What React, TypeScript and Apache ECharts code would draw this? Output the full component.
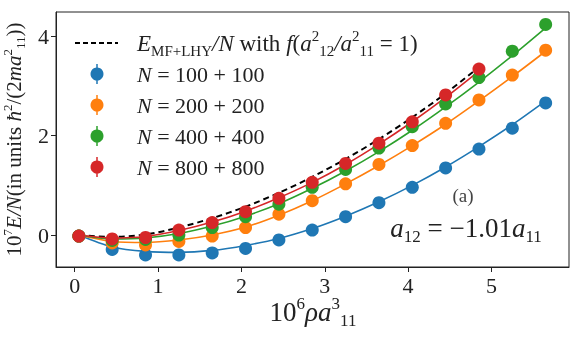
import React, { useEffect, useRef } from "react";
import * as echarts from "echarts";

const xValues = [0.05, 0.45, 0.85, 1.25, 1.65, 2.05, 2.45, 2.85, 3.25, 3.65, 4.05, 4.45, 4.85, 5.25, 5.65];

const blueE = [-0.02, -0.29, -0.40, -0.40, -0.36, -0.27, -0.10, 0.10, 0.37, 0.65, 0.96, 1.35, 1.73, 2.15, 2.66];
const orangeE = [-0.02, -0.16, -0.20, -0.13, -0.02, 0.15, 0.42, 0.69, 1.03, 1.42, 1.80, 2.25, 2.72, 3.22, 3.72];
const greenE = [-0.02, -0.11, -0.09, 0.0, 0.15, 0.37, 0.62, 0.96, 1.32, 1.75, 2.18, 2.64, 3.17, 3.70, 4.24];
const redE = [-0.02, -0.08, -0.05, 0.10, 0.25, 0.47, 0.74, 1.06, 1.44, 1.85, 2.28, 2.82, 3.34];

const blueFit = [0.0, -0.24, -0.33, -0.35, -0.31, -0.21, -0.07, 0.13, 0.38, 0.67, 1.0, 1.37, 1.78, 2.22, 2.70];
const orangeFit = [0.0, -0.13, -0.15, -0.10, 0.0, 0.16, 0.40, 0.69, 1.03, 1.40, 1.80, 2.23, 2.70, 3.19, 3.70];
const greenFit = [0.0, -0.08, -0.06, 0.03, 0.18, 0.38, 0.63, 0.94, 1.29, 1.68, 2.11, 2.58, 3.08, 3.61, 4.17];
const redFit = [0.0, -0.06, -0.03, 0.09, 0.26, 0.48, 0.75, 1.06, 1.42, 1.83, 2.28, 2.77, 3.30];
const mfLhy = [0.0, -0.04, 0.01, 0.15, 0.34, 0.57, 0.85, 1.17, 1.53, 1.93, 2.37, 2.85, 3.38];

const xTicks = [0, 1, 2, 3, 4, 5];
const yTicks = [0, 2, 4];

const seriesLabels = ["100 + 100", "200 + 200", "400 + 400", "800 + 800"];
const colors = ["#1f77b4", "#ff7f0e", "#2ca02c", "#d62728"];

const FONT = "Liberation Serif";

const pairs = (ys: number[]) => ys.map((y, i) => [xValues[i], y]);

export default function App() {
  const ref = useRef<HTMLDivElement>(null);
  useEffect(() => {
    if (!ref.current) return;
    const chart = echarts.init(ref.current, null, { renderer: "svg" });

    const points = [blueE, orangeE, greenE, redE];
    const fits = [blueFit, orangeFit, greenFit, redFit];

    const series: any[] = [];
    series.push({
      type: "line",
      data: pairs(mfLhy),
      smooth: 0.3,
      showSymbol: false,
      lineStyle: { color: "#000", width: 2, type: [6, 4] },
      z: 2,
    });
    fits.forEach((f, i) => {
      series.push({
        type: "line",
        data: pairs(f),
        smooth: 0.3,
        showSymbol: false,
        lineStyle: { color: colors[i], width: 1.6 },
        z: 2,
      });
    });
    points.forEach((p, i) => {
      series.push({
        type: "scatter",
        data: pairs(p),
        symbol: "circle",
        symbolSize: 13,
        itemStyle: { color: colors[i], opacity: 1 },
        z: 3 + i,
      });
    });

    const legendRows = [74, 105, 136, 167];
    const graphic: any[] = [
      {
        type: "line",
        shape: { x1: 75, y1: 43, x2: 118, y2: 43 },
        style: { stroke: "#000", lineWidth: 2, lineDash: [5, 3] },
      },
      {
        type: "text",
        x: 137,
        y: 43,
        style: {
          text: "{i|E}{sub|MF+LHY}{i|/N}{n| with }{i|f}{n|(}{i|a}{sup|2}{sub|12}{i|/a}{sup|2}{sub|11}{n| = 1)}",
          verticalAlign: "middle",
          rich: {
            i: { fontFamily: FONT, fontStyle: "italic", fontSize: 23, lineHeight: 30, fill: "#222" },
            n: { fontFamily: FONT, fontSize: 23, lineHeight: 30, fill: "#222" },
            sub: { fontFamily: FONT, fontSize: 15, lineHeight: 15, verticalAlign: "bottom", fill: "#222" },
            sup: { fontFamily: FONT, fontSize: 15, lineHeight: 15, verticalAlign: "top", fill: "#222" },
          },
        },
      },
    ];
    legendRows.forEach((y, i) => {
      graphic.push({
        type: "line",
        shape: { x1: 97, y1: y - 10, x2: 97, y2: y + 10 },
        style: { stroke: colors[i], lineWidth: 1.5 },
      });
      graphic.push({
        type: "circle",
        shape: { cx: 97, cy: y, r: 6.5 },
        style: { fill: colors[i] },
      });
      graphic.push({
        type: "text",
        x: 137,
        y: y,
        style: {
          text: `{i|N}{n| = ${seriesLabels[i]}}`,
          verticalAlign: "middle",
          rich: {
            i: { fontFamily: FONT, fontStyle: "italic", fontSize: 22, fill: "#222" },
            n: { fontFamily: FONT, fontSize: 22, fill: "#222" },
          },
        },
      });
    });
    graphic.push({
      type: "text",
      x: 463,
      y: 195,
      style: {
        text: "(a)",
        align: "center",
        verticalAlign: "middle",
        fontFamily: FONT,
        fontSize: 19,
        fill: "#444",
      },
    });
    graphic.push({
      type: "text",
      x: 466,
      y: 228,
      style: {
        text: "{i|a}{sub|12}{n| = −1.01}{i|a}{sub|11}",
        align: "center",
        verticalAlign: "middle",
        rich: {
          i: { fontFamily: FONT, fontStyle: "italic", fontSize: 27, lineHeight: 34, fill: "#222" },
          n: { fontFamily: FONT, fontSize: 27, lineHeight: 34, fill: "#222" },
          sub: { fontFamily: FONT, fontSize: 17, lineHeight: 17, verticalAlign: "bottom", fill: "#222" },
        },
      },
    });
    // x-axis title
    graphic.push({
      type: "text",
      x: 313,
      y: 312,
      style: {
        text: "{n|10}{sup|6}{i|ρa}{sup|3}{sub|11}",
        align: "center",
        verticalAlign: "middle",
        rich: {
          n: { fontFamily: FONT, fontSize: 27, lineHeight: 34, fill: "#222" },
          i: { fontFamily: FONT, fontStyle: "italic", fontSize: 27, lineHeight: 34, fill: "#222" },
          sup: { fontFamily: FONT, fontSize: 17, lineHeight: 17, verticalAlign: "top", fill: "#222" },
          sub: { fontFamily: FONT, fontSize: 17, lineHeight: 17, verticalAlign: "bottom", fill: "#222" },
        },
      },
    });

    chart.setOption({
      animation: false,
      grid: { left: 56, right: 12, top: 12, bottom: 75, containLabel: false, outerBoundsMode: "none" },
      xAxis: {
        type: "value",
        min: -0.224,
        max: 5.93,
        splitLine: { show: false },
        axisLine: { show: true, onZero: false, lineStyle: { color: "#222", width: 1 } },
        axisTick: { show: true, length: 5, customValues: xTicks, lineStyle: { color: "#222" } },
        axisLabel: {
          customValues: xTicks,
          fontFamily: FONT,
          fontSize: 22,
          color: "#222",
          margin: 7,
        },
      },
      yAxis: {
        type: "value",
        min: -0.644,
        max: 4.49,
        splitLine: { show: false },
        axisLine: { show: true, onZero: false, lineStyle: { color: "#222", width: 1 } },
        axisTick: { show: true, length: 5, customValues: yTicks, lineStyle: { color: "#222" } },
        axisLabel: {
          customValues: yTicks,
          fontFamily: FONT,
          fontSize: 22,
          color: "#222",
          margin: 7,
        },
        name: "{n|10}{sup|7}{i|E/N}{n|(in units }{i|ħ}{sup|2}{n|/(2}{i|ma}{sup|2}{sub|11}{n|))}",
        nameLocation: "middle",
        nameRotate: 90,
        nameGap: 22,
        nameTextStyle: {
          rich: {
            n: { fontFamily: FONT, fontSize: 21, lineHeight: 26, color: "#222" },
            i: { fontFamily: FONT, fontStyle: "italic", fontSize: 21, lineHeight: 26, color: "#222" },
            sup: { fontFamily: FONT, fontSize: 13, lineHeight: 13, verticalAlign: "top", color: "#222" },
            sub: { fontFamily: FONT, fontSize: 13, lineHeight: 13, verticalAlign: "bottom", color: "#222" },
          },
        },
      },
      series,
      graphic: [
        ...graphic,
        {
          type: "rect",
          shape: { x: 56, y: 12, width: 513, height: 255 },
          style: { fill: "none", stroke: "#222", lineWidth: 1 },
          silent: true,
          z: 100,
        },
      ],
    });

    return () => chart.dispose();
  }, []);

  return <div ref={ref} style={{ position: "fixed", left: 0, top: 0, width: 581, height: 342 }} />;
}
